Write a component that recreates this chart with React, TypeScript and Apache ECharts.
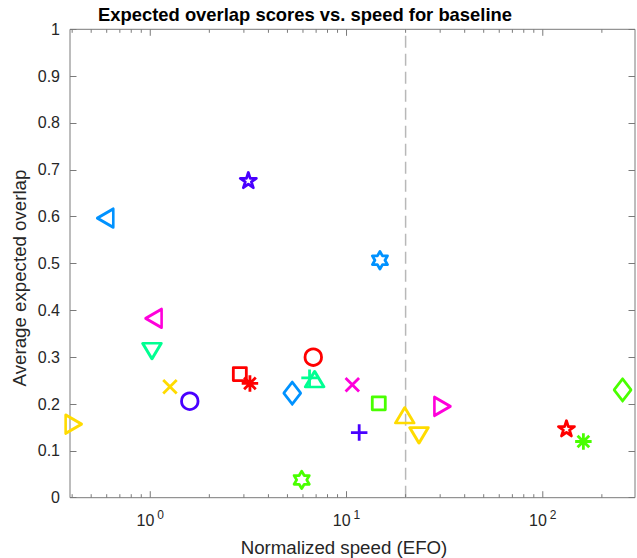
import React, { useEffect, useRef } from "react";
import * as echarts from "echarts";

// ---- data ----
const speeds = [0.59, 3.16, 14.8, 1.04, 1.02, 1.26, 1.59, 0.407, 2.86, 3.22, 5.29, 6.77, 6.48, 6.88, 5.91, 10.7, 14.6, 11.6, 19.8, 23.4, 30.8, 132, 161, 255];
const overlaps = [0.597, 0.678, 0.507, 0.383, 0.313, 0.237, 0.206, 0.157, 0.264, 0.244, 0.223, 0.3, 0.256, 0.253, 0.038, 0.241, 0.2015, 0.139, 0.176, 0.133, 0.195, 0.148, 0.12, 0.23];
const markerKinds = ["<", "p", "h", "<", "v", "x", "o", ">", "s", "*", "d", "o", "+", "^", "h", "x", "s", "+", "^", "v", ">", "p", "*", "d"];
const colorIndex = [4, 5, 4, 6, 3, 1, 5, 1, 0, 0, 4, 0, 3, 3, 2, 6, 2, 5, 1, 1, 6, 0, 2, 2];
const palette = ["#FF0000", "#FFDB00", "#49FF00", "#00FF92", "#0092FF", "#4900FF", "#FF00DB"];

const xMajorTicks = [1, 10, 100];
const xMinorTicks = [0.4, 0.5, 0.6, 0.7, 0.8, 0.9, 2, 3, 4, 5, 6, 7, 8, 9, 20, 30, 40, 50, 60, 70, 80, 90, 200];
const realtimeThreshold = 20;

const titleText = "Expected overlap scores vs. speed for baseline";
const xName = "Normalized speed (EFO)";
const yName = "Average expected overlap";

const FONT = "'Liberation Sans', Arial, Helvetica, sans-serif";
const AXIS_COLOR = "#7a7a7a";
const TEXT_COLOR = "#262626";

const markerDefs: Record<string, { symbol: string; size: any; keep?: boolean }> = {
  o: { symbol: "circle", size: 16.5 },
  s: { symbol: "rect", size: 13 },
  d: { symbol: "diamond", size: [17, 22] },
  "^": { symbol: "path://M10 0L20 17L0 17Z", size: [18.5, 15.5] },
  v: { symbol: "path://M0 0L20 0L10 17Z", size: [18.5, 15.5] },
  "<": { symbol: "path://M0 10L17 0L17 20Z", size: [16, 18.5] },
  ">": { symbol: "path://M0 0L17 10L0 20Z", size: [16, 18.5] },
  "+": { symbol: "path://M10 0V20M0 10H20", size: 16.5 },
  x: { symbol: "path://M0 0L20 20M20 0L0 20", size: 13.5 },
  "*": { symbol: "path://M10 0V20M0 10H20M2.93 2.93L17.07 17.07M17.07 2.93L2.93 17.07", size: 16.5 },
  p: {
    symbol: "path://M10 0L12.245 6.91L19.511 6.91L13.633 11.18L15.878 18.09L10 13.82L4.122 18.09L6.367 11.18L0.489 6.91L7.755 6.91Z",
    size: 16,
    keep: true,
  },
  h: {
    symbol: "path://M10 0L12.887 5L18.66 5L15.774 10L18.66 15L12.887 15L10 20L7.113 15L1.34 15L4.226 10L1.34 5L7.113 5Z",
    size: 17.5,
    keep: true,
  },
};

function tickRenderer(len: number) {
  return (params: any, api: any) => {
    const x = api.value(0);
    const b = api.coord([x, 0]);
    const t = api.coord([x, 1]);
    const style = { stroke: AXIS_COLOR, lineWidth: 1 };
    return {
      type: "group",
      children: [
        { type: "line", shape: { x1: b[0], y1: b[1], x2: b[0], y2: b[1] - len }, style },
        { type: "line", shape: { x1: t[0], y1: t[1], x2: t[0], y2: t[1] + len }, style },
      ],
    };
  };
}

export default function App() {
  const ref = useRef<HTMLDivElement>(null);

  useEffect(() => {
    if (!ref.current) return;
    const chart = echarts.init(ref.current, undefined, { renderer: "svg" });

    const points = speeds.map((s, i) => {
      const def = markerDefs[markerKinds[i]];
      const color = palette[colorIndex[i]];
      return {
        value: [s, overlaps[i]],
        symbol: def.symbol,
        symbolSize: def.size,
        symbolKeepAspect: !!def.keep,
        itemStyle: {
          color: "rgba(0,0,0,0)",
          borderColor: color,
          borderWidth: 2.8,
          borderJoin: "round",
          opacity: 1,
        },
      };
    });

    const xAxisCommon = {
      type: "log",
      logBase: 10,
      min: 0.39,
      max: 295,
      splitLine: { show: false },
      axisTick: { show: false },
      axisLine: { show: false },
    };

    chart.setOption({
      animation: false,
      backgroundColor: "#ffffff",
      textStyle: { fontFamily: FONT },
      grid: {
        left: 70,
        right: 2,
        top: 29.3,
        bottom: 60.3,
        show: true,
        borderColor: AXIS_COLOR,
        borderWidth: 1,
        backgroundColor: "transparent",
        containLabel: false,
        outerBoundsMode: "none",
      },
      xAxis: [
        {
          ...xAxisCommon,
          position: "bottom",
          axisLabel: {
            margin: 11,
            color: TEXT_COLOR,
            fontFamily: FONT,
            showMinLabel: false,
            showMaxLabel: false,
            formatter: (v: number) => {
              const e = Math.log10(v);
              if (Math.abs(e - Math.round(e)) > 1e-6) return "";
              return "{b|10}{s|" + Math.round(e) + "}";
            },
            rich: {
              b: { fontSize: 16, color: TEXT_COLOR, fontFamily: FONT },
              s: { fontSize: 12, color: TEXT_COLOR, fontFamily: FONT, padding: [0, 0, 12, 3] },
            },
          },
        },
      ],
      yAxis: [
        {
          type: "value",
          min: 0,
          max: 1,
          interval: 0.1,
          position: "left",
          splitLine: { show: false },
          axisLine: { show: false },
          axisTick: { show: true, inside: true, length: 6.5, lineStyle: { color: AXIS_COLOR, width: 1 } },
          axisLabel: { margin: 10, color: TEXT_COLOR, fontSize: 16, fontFamily: FONT },
        },
        {
          type: "value",
          min: 0,
          max: 1,
          interval: 0.1,
          position: "right",
          splitLine: { show: false },
          axisLine: { show: false },
          axisTick: { show: true, inside: true, length: 6.5, lineStyle: { color: AXIS_COLOR, width: 1 } },
          axisLabel: { show: false },
        },
      ],
      graphic: [
        {
          type: "text",
          x: 98,
          y: 14.5,
          style: {
            text: titleText,
            font: "bold 18.4px " + FONT,
            fill: "#000000",
            textAlign: "left",
            textVerticalAlign: "middle",
          },
        },
        {
          type: "text",
          x: 344,
          y: 547,
          style: {
            text: xName,
            font: "18.7px " + FONT,
            fill: TEXT_COLOR,
            textAlign: "center",
            textVerticalAlign: "middle",
          },
        },
        {
          type: "text",
          x: 19.5,
          y: 278,
          rotation: Math.PI / 2,
          style: {
            text: yName,
            font: "18.7px " + FONT,
            fill: TEXT_COLOR,
            textAlign: "center",
            textVerticalAlign: "middle",
          },
        },
      ],
      series: [
        {
          type: "line",
          data: [
            [realtimeThreshold, 0],
            [realtimeThreshold, 1],
          ],
          symbol: "none",
          silent: true,
          z: 1,
          lineStyle: { color: "#b8b8b8", width: 1.5, type: [12, 6] },
        },
        {
          type: "custom",
          data: xMajorTicks.map((v) => [v, 0]),
          encode: { x: 0, y: 1 },
          renderItem: tickRenderer(6.5),
          silent: true,
          z: 3,
        },
        {
          type: "custom",
          data: xMinorTicks.map((v) => [v, 0]),
          encode: { x: 0, y: 1 },
          renderItem: tickRenderer(3.5),
          silent: true,
          z: 3,
        },
        {
          type: "scatter",
          data: points,
          z: 5,
          silent: true,
        },
      ],
    });

    return () => chart.dispose();
  }, []);

  return (
    <div
      ref={ref}
      style={{ position: "fixed", left: 0, top: 0, width: 637, height: 558, background: "#fff" }}
    />
  );
}
